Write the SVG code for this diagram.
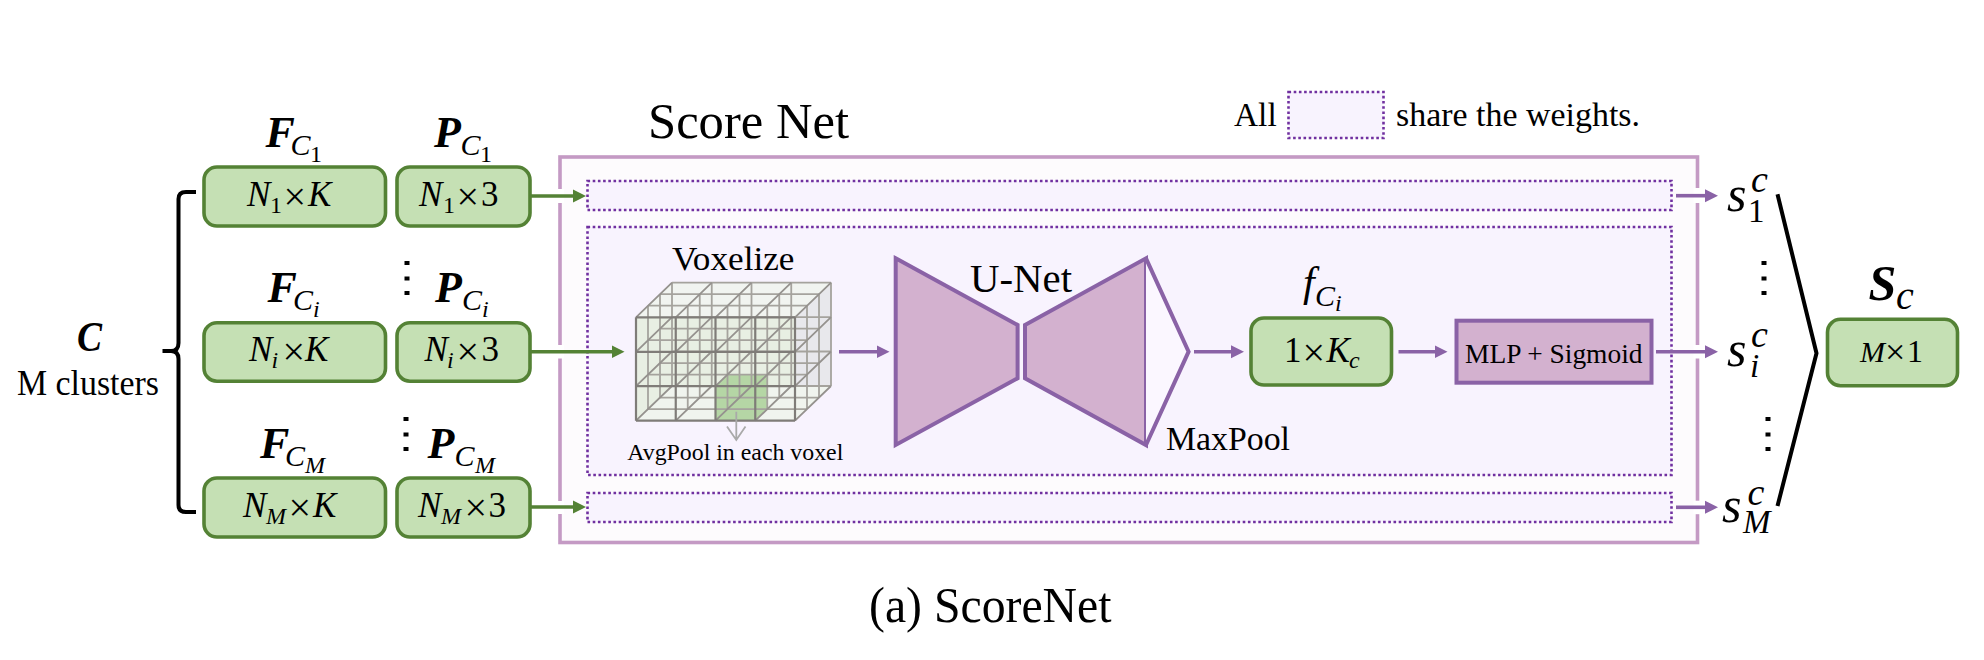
<svg xmlns="http://www.w3.org/2000/svg" width="1984" height="660" viewBox="0 0 1984 660">
<style>
text{font-family:"Liberation Serif","Times New Roman",serif;fill:#000}
.gb{fill:#c5e0b4;stroke:#548235;stroke-width:3.6}
.dot{fill:#f8f3fe;stroke:#7030a0;stroke-width:2.6;stroke-dasharray:2.6 2.6}
.pf{fill:#d3b1cf;stroke:#8a62a6;stroke-width:4;stroke-linejoin:miter}
.m{font-style:italic;font-size:35px}
.ms{font-style:italic;font-size:24px}
.n{font-size:35px}
.x{font-size:40px}
.ns{font-size:24px}
.bi{font-style:italic;font-weight:bold;font-size:44px}
.c1{font-style:italic;font-size:30px}
.c1b{font-style:italic;font-size:33px}
.c1n{font-size:33px}
.s{font-style:italic;font-size:50px}
.sc{font-style:italic;font-size:38px}
.t{font-size:33.4px}
.ga{stroke:#548235;stroke-width:3.6;fill:none;marker-end:url(#ag)}
.pa{stroke:#8a62a6;stroke-width:3.6;fill:none;marker-end:url(#ap)}
.halo{fill:#fff;stroke:none}
.blk{fill:none;stroke:#000;stroke-width:4}
.dots{fill:#000}
</style>
<defs>
<marker id="ag" markerUnits="userSpaceOnUse" markerWidth="14" markerHeight="14" refX="1" refY="7" orient="auto"><path d="M0 0.5L13 7L0 13.5z" fill="#548235"/></marker>
<marker id="ap" markerUnits="userSpaceOnUse" markerWidth="14" markerHeight="14" refX="1" refY="7" orient="auto"><path d="M0 0.5L13 7L0 13.5z" fill="#8a62a6"/></marker>
<path id="layer" fill="none" d="M636 317.3H795M636 351.8H795M636 386.2H795M636 420.7H795M636 317.3V420.7M675.75 317.3V420.7M715.5 317.3V420.7M755.25 317.3V420.7M795 317.3V420.7"/>
<g id="vd"><rect x="-2.5" y="-2" width="5" height="4"/><rect x="-2.5" y="13.5" width="5" height="4"/><rect x="-2.5" y="28" width="5" height="4"/></g>
</defs>
<rect width="1984" height="660" fill="#fff"/>

<g id="frame"><rect x="560" y="157" width="1137.5" height="385.5" fill="#fdfbfd" stroke="#c49ac4" stroke-width="3.6"/>
<text x="648" y="137.7" font-size="51" textLength="201" lengthAdjust="spacingAndGlyphs">Score Net</text></g>
<g id="legend"><rect class="dot" x="1288.5" y="92" width="95" height="46"/>
<text class="t" x="1234" y="126">All</text><text class="t" x="1396" y="126" textLength="244" lengthAdjust="spacingAndGlyphs">share the weights.</text></g>
<g id="shared-top"><rect class="dot" x="587.5" y="181" width="1084" height="29"/></g>
<g id="shared-mid"><rect class="dot" x="587.5" y="227" width="1084" height="248"/></g>
<g id="shared-bottom"><rect class="dot" x="587.5" y="493" width="1084" height="29"/></g>

<g id="clusters"><text x="77" y="351" font-size="42" font-weight="bold" font-style="italic" textLength="25" lengthAdjust="spacingAndGlyphs">C</text><text x="17" y="395" font-size="35.5" textLength="142" lengthAdjust="spacingAndGlyphs">M clusters</text></g>

<g id="F1"><text><tspan class="bi" x="265.5" y="146.5">F</tspan><tspan class="c1" x="290.5" y="155">C</tspan><tspan class="ns" x="310" y="161.5">1</tspan></text>
<rect class="gb" x="204" y="167" width="181.5" height="59" rx="13"/>
<text><tspan class="m" x="247" y="206">N</tspan><tspan class="ns" x="270" y="213">1</tspan><tspan class="x" x="283.5" y="210">×</tspan><tspan class="m" x="308" y="206">K</tspan></text></g>
<g id="P1"><text><tspan class="bi" x="434" y="146.5">P</tspan><tspan class="c1" x="460.5" y="155">C</tspan><tspan class="ns" x="480" y="161.5">1</tspan></text>
<rect class="gb" x="397" y="167" width="133" height="59" rx="13"/>
<text><tspan class="m" x="419" y="206">N</tspan><tspan class="ns" x="443" y="213">1</tspan><tspan class="x" x="456.5" y="210">×</tspan><tspan class="n" x="481" y="206">3</tspan></text></g>

<g id="Fi"><text><tspan class="bi" x="267.5" y="301.5">F</tspan><tspan class="c1" x="293" y="310">C</tspan><tspan class="ms" x="313" y="316.5">i</tspan></text>
<rect class="gb" x="204" y="322.7" width="181.5" height="58.5" rx="13"/>
<text><tspan class="m" x="249" y="361">N</tspan><tspan class="ms" x="271.5" y="368">i</tspan><tspan class="x" x="282.5" y="365">×</tspan><tspan class="m" x="305" y="361">K</tspan></text></g>
<g id="Pi"><text><tspan class="bi" x="435" y="301.5">P</tspan><tspan class="c1" x="462" y="310">C</tspan><tspan class="ms" x="482" y="316.5">i</tspan></text>
<rect class="gb" x="397" y="322.7" width="133" height="58.5" rx="13"/>
<text><tspan class="m" x="424.5" y="361">N</tspan><tspan class="ms" x="447" y="368">i</tspan><tspan class="x" x="456.5" y="365">×</tspan><tspan class="n" x="481.5" y="361">3</tspan></text></g>

<g id="FM"><text><tspan class="bi" x="260" y="457.5">F</tspan><tspan class="c1" x="285" y="466">C</tspan><tspan class="ms" x="305" y="472.5">M</tspan></text>
<rect class="gb" x="204" y="478" width="181.5" height="59" rx="13"/>
<text><tspan class="m" x="243" y="516.5">N</tspan><tspan class="ms" x="266" y="523.5">M</tspan><tspan class="x" x="288.5" y="520.5">×</tspan><tspan class="m" x="313" y="516.5">K</tspan></text></g>
<g id="PM"><text><tspan class="bi" x="427.5" y="457.5">P</tspan><tspan class="c1" x="454.5" y="466">C</tspan><tspan class="ms" x="475" y="472.5">M</tspan></text>
<rect class="gb" x="397" y="478" width="133" height="59" rx="13"/>
<text><tspan class="m" x="418" y="516.5">N</tspan><tspan class="ms" x="441" y="523.5">M</tspan><tspan class="x" x="464.5" y="520.5">×</tspan><tspan class="n" x="488.5" y="516.5">3</tspan></text></g>

<g id="voxel">
<polygon points="636,317.3 672,282.7 831,282.7 795,317.3" fill="#f1f4f0"/>
<polygon points="795,317.3 831,282.7 831,386 795,420.7" fill="#e8e8ec"/>
<rect x="636" y="317.3" width="159" height="103.4" fill="#e8efe3"/>
<polygon points="636,420.7 672,386 831,386 795,420.7" fill="#f0f4ee"/>
<polygon points="715.5,386.2 727.5,374.6 767.25,374.6 767.25,409 755.25,420.7 715.5,420.7" fill="#b5d6a5"/>
<g stroke="#a5a39d" stroke-width="1.8"><use href="#layer" transform="translate(36 -34.7)"/><use href="#layer" transform="translate(24 -23.1)"/><use href="#layer" transform="translate(12 -11.6)"/></g>
<path fill="none" stroke="#95928e" stroke-width="1.8" d="M636 317.3l36-34.7M675.75 317.3l36-34.7M715.5 317.3l36-34.7M755.25 317.3l36-34.7M795 317.3l36-34.7M636 351.8l36-34.7M675.75 351.8l36-34.7M715.5 351.8l36-34.7M755.25 351.8l36-34.7M795 351.8l36-34.7M636 386.2l36-34.7M675.75 386.2l36-34.7M715.5 386.2l36-34.7M755.25 386.2l36-34.7M795 386.2l36-34.7M636 420.7l36-34.7M675.75 420.7l36-34.7M715.5 420.7l36-34.7M755.25 420.7l36-34.7M795 420.7l36-34.7"/>
<use href="#layer" stroke="#7f7c78" stroke-width="2.2"/>
<path fill="none" stroke="#a9a9a9" stroke-width="1.8" d="M736.3 411.7V440M727 426.5L736.3 440L745.5 426.5"/>
<text x="672" y="270" font-size="34" textLength="122.4" lengthAdjust="spacingAndGlyphs">Voxelize</text>
<text x="627.3" y="459.5" font-size="23.8" textLength="216" lengthAdjust="spacingAndGlyphs">AvgPool in each voxel</text></g>

<g id="unet"><polygon class="pf" points="895.7,258.3 1017.6,325 1017.6,378.3 895.7,445"/>
<polygon class="pf" points="1025,325 1146,258.3 1146,445 1025,378.3"/>
<text x="970" y="291.7" font-size="40.5" textLength="102" lengthAdjust="spacingAndGlyphs">U-Net</text></g>
<g id="maxpool"><polyline fill="#fbf7ff" stroke="#8a62a6" stroke-width="4" points="1146,258.3 1188.6,351.7 1146,445"/>
<text x="1166" y="449.5" font-size="33.8" textLength="124" lengthAdjust="spacingAndGlyphs">MaxPool</text></g>

<g id="fci"><text><tspan class="s" x="1303" y="296" style="font-size:42px">f</tspan><tspan class="c1" x="1315" y="306">C</tspan><tspan class="ms" x="1335" y="311">i</tspan></text>
<rect class="gb" x="1251" y="318" width="140.5" height="67" rx="13"/>
<text><tspan class="n" x="1284" y="361.5">1</tspan><tspan class="x" x="1302.5" y="365.5">×</tspan><tspan class="m" x="1326.5" y="361.5">K</tspan><tspan class="ms" x="1349" y="367.5">c</tspan></text></g>
<g id="mlp"><rect class="pf" x="1456.5" y="320.7" width="195" height="62"/>
<text x="1465" y="362.7" font-size="27.2" textLength="177.5" lengthAdjust="spacingAndGlyphs">MLP + Sigmoid</text></g>

<g id="s1"><text><tspan class="s" x="1727" y="211">s</tspan><tspan class="sc" x="1751" y="191.5">c</tspan><tspan class="c1n" x="1748" y="221.5">1</tspan></text></g>
<g id="si"><text><tspan class="s" x="1727" y="366">s</tspan><tspan class="sc" x="1751" y="346.5">c</tspan><tspan class="c1b" x="1750" y="377">i</tspan></text></g>
<g id="sM"><text><tspan class="s" x="1722" y="521.5">s</tspan><tspan class="sc" x="1747.5" y="505">c</tspan><tspan class="c1b" x="1743" y="532.5">M</tspan></text></g>
<g id="Sc"><text><tspan class="bi" x="1868.5" y="300" style="font-size:50px">S</tspan><tspan class="sc" x="1896" y="309" style="font-size:40px">c</tspan></text>
<rect class="gb" x="1827.5" y="319.3" width="130" height="66.4" rx="13"/>
<text><tspan class="m" x="1860" y="361.5" style="font-size:30px">M</tspan><tspan class="x" x="1885" y="363.5" style="font-size:36px">×</tspan><tspan class="n" x="1907" y="361.5" style="font-size:32px">1</tspan></text></g>

<g id="dots"><use href="#vd" class="dots" x="407" y="263"/><use href="#vd" class="dots" x="406" y="419"/><use href="#vd" class="dots" x="1764" y="263"/><use href="#vd" class="dots" x="1768" y="419"/></g>

<g id="connectors">
<rect class="halo" x="556" y="189" width="8" height="14"/><rect class="halo" x="556" y="345" width="8" height="13.5"/><rect class="halo" x="556" y="501" width="8" height="13"/>
<rect class="halo" x="1693.5" y="188" width="8" height="15"/><rect class="halo" x="1693.5" y="345" width="8" height="13.5"/><rect class="halo" x="1693.5" y="500.7" width="8" height="13.5"/>
<line class="ga" x1="531" y1="196" x2="574" y2="196"/>
<line class="ga" x1="531" y1="351.7" x2="612.5" y2="351.7"/>
<line class="ga" x1="531" y1="507" x2="574" y2="507"/>
<line class="pa" x1="839" y1="351.7" x2="877.5" y2="351.7"/>
<line class="pa" x1="1194" y1="351.7" x2="1232" y2="351.7"/>
<line class="pa" x1="1398.5" y1="351.7" x2="1435.5" y2="351.7"/>
<line class="pa" x1="1656" y1="351.7" x2="1706" y2="351.7"/>
<line class="pa" x1="1676" y1="195.7" x2="1706" y2="195.7"/>
<line class="pa" x1="1676" y1="507.3" x2="1706" y2="507.3"/>
<path class="blk" d="M196 192H186Q178.5 192 178.5 199V343Q178.5 351 171 351H162.5M171 351Q178.5 351 178.5 359V505Q178.5 512 186 512H196"/>
<polyline class="blk" points="1777.5,194.3 1816.5,353.3 1777.5,506"/>
</g>
<g id="caption"><text x="869" y="621.7" font-size="49.6" textLength="242.5" lengthAdjust="spacingAndGlyphs">(a) ScoreNet</text></g>
</svg>
